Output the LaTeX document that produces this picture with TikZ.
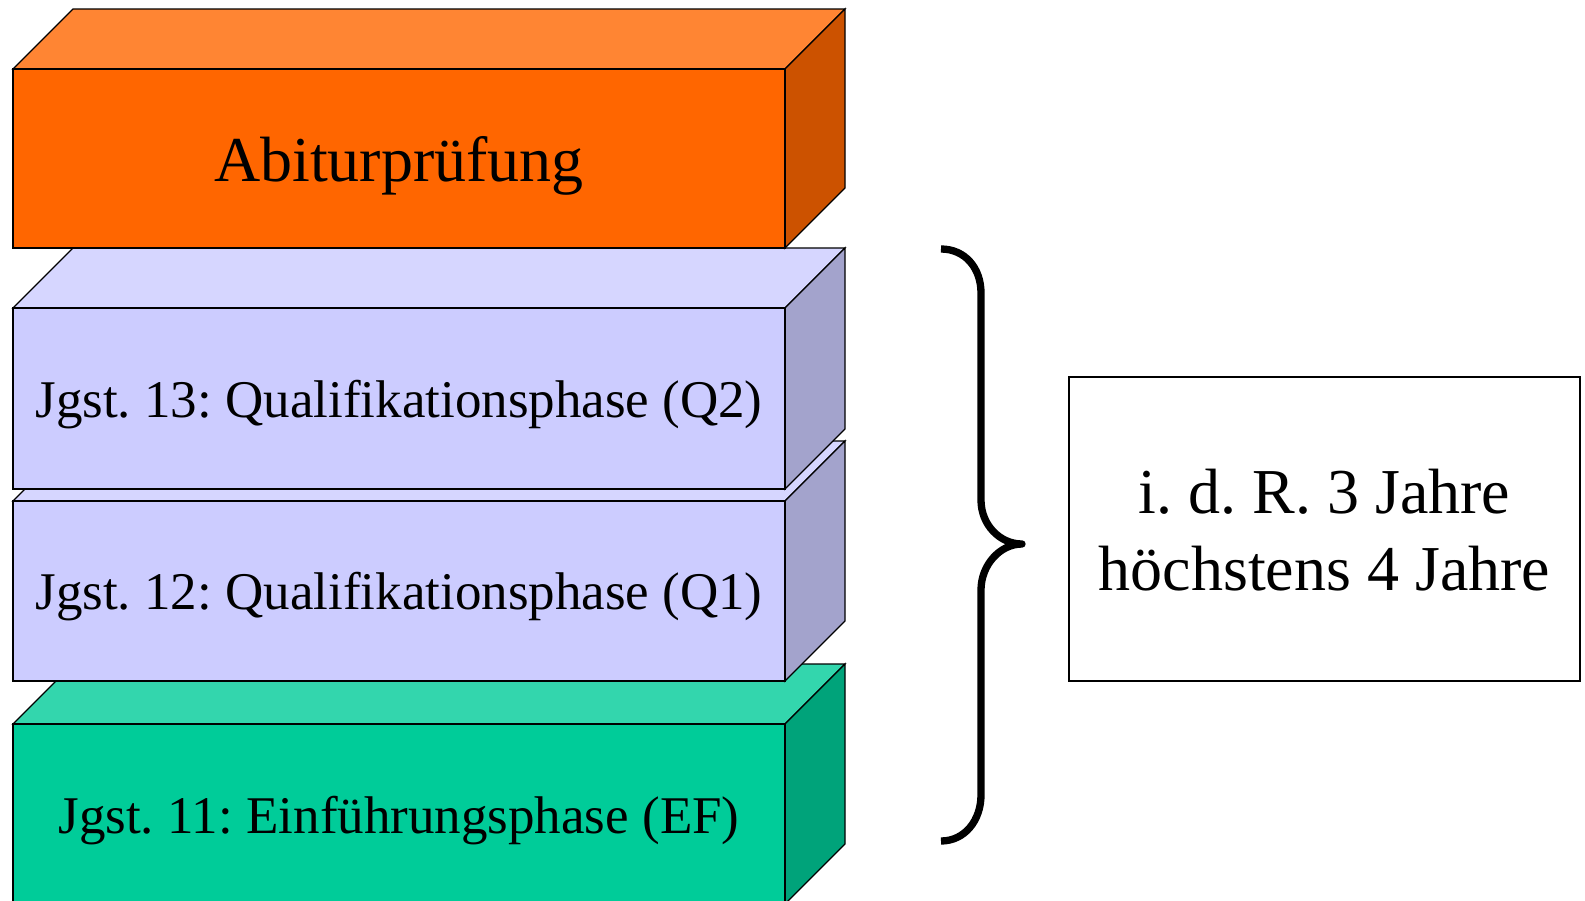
\documentclass[tikz,border=0pt]{standalone}
\usepackage{fontspec}
\setmainfont{Liberation Serif}
\frenchspacing
\definecolor{orF}{HTML}{FF6600}
\definecolor{orT}{HTML}{FF8533}
\definecolor{orS}{HTML}{CC5200}
\definecolor{laF}{HTML}{CCCCFF}
\definecolor{laT}{HTML}{D6D6FF}
\definecolor{laS}{HTML}{A3A3CC}
\definecolor{grF}{HTML}{00CC99}
\definecolor{grT}{HTML}{33D6AD}
\definecolor{grS}{HTML}{00A37A}
\newcommand{\mycuboid}[7]{%
  % #1 x0, #2 y0 (front top), #3 x1, #4 y1 (front bottom), #5 front, #6 top, #7 side
  \filldraw[face, fill=#6] (#1,#2) -- (#1+60,#2-60) -- (#3+60,#2-60) -- (#3,#2) -- cycle;
  \filldraw[face, fill=#7] (#3,#2) -- (#3+60,#2-60) -- (#3+60,#4-60) -- (#3,#4) -- cycle;
  \filldraw[face, fill=#5] (#1,#2) rectangle (#3,#4);
}
\begin{document}
\begin{tikzpicture}[x=1pt,y=-1pt,
  face/.style={draw=black, line width=1.3pt, line join=miter},
  bigtxt/.style={anchor=base, inner sep=0pt, font=\fontsize{64}{76}\selectfont},
  midtxt/.style={anchor=base, inner sep=0pt, font=\fontsize{53}{64}\selectfont},
  durtxt/.style={anchor=base, inner sep=0pt, font=\fontsize{64}{76}\selectfont},
  durbox/.style={draw=black, line width=1.3pt, minimum width=511pt, minimum height=304pt, inner sep=0pt},
  brace/.style={draw=black, line width=7.3pt, line join=round}
]
\useasboundingbox (0,0) rectangle (1585,900);
\clip (0,0) rectangle (1585,900);
% stacked blocks, bottom first
\mycuboid{13}{724}{785}{904}{grF}{grT}{grS}
\mycuboid{13}{501}{785}{681}{laF}{laT}{laS}
\mycuboid{13}{308}{785}{489}{laF}{laT}{laS}
\mycuboid{13}{69}{785}{248}{orF}{orT}{orS}
\node[bigtxt] (abi) at (399,181) {Abiturprüfung};
\node[midtxt] (q2) at (399,417) {Jgst. 13: Qualifikationsphase (Q2)};
\node[midtxt] (q1) at (399,609) {Jgst. 12: Qualifikationsphase (Q1)};
\node[midtxt] (ef) at (399,833) {Jgst. 11: Einführungsphase (EF)};
% brace
\coordinate (btop) at (941,249);
\coordinate (btip) at (1022,544);
\coordinate (bbot) at (941,841);
\draw[brace] (btop) .. controls (965,249) and (981,268) .. (981,293) -- (981,500)
  .. controls (981,525) and (1000,544) .. (btip)
  .. controls (1000,544) and (981,565) .. (981,590) -- (981,795)
  .. controls (981,820) and (965,841) .. (bbot);
% duration box
\node[durbox] (dur) at (1324.5,529) {};
\node[durtxt] (l1) at (1324.5,513) {i. d. R. 3 Jahre};
\node[durtxt] (l2) at (1324.5,590) {höchstens 4 Jahre};
\end{tikzpicture}
\end{document}
